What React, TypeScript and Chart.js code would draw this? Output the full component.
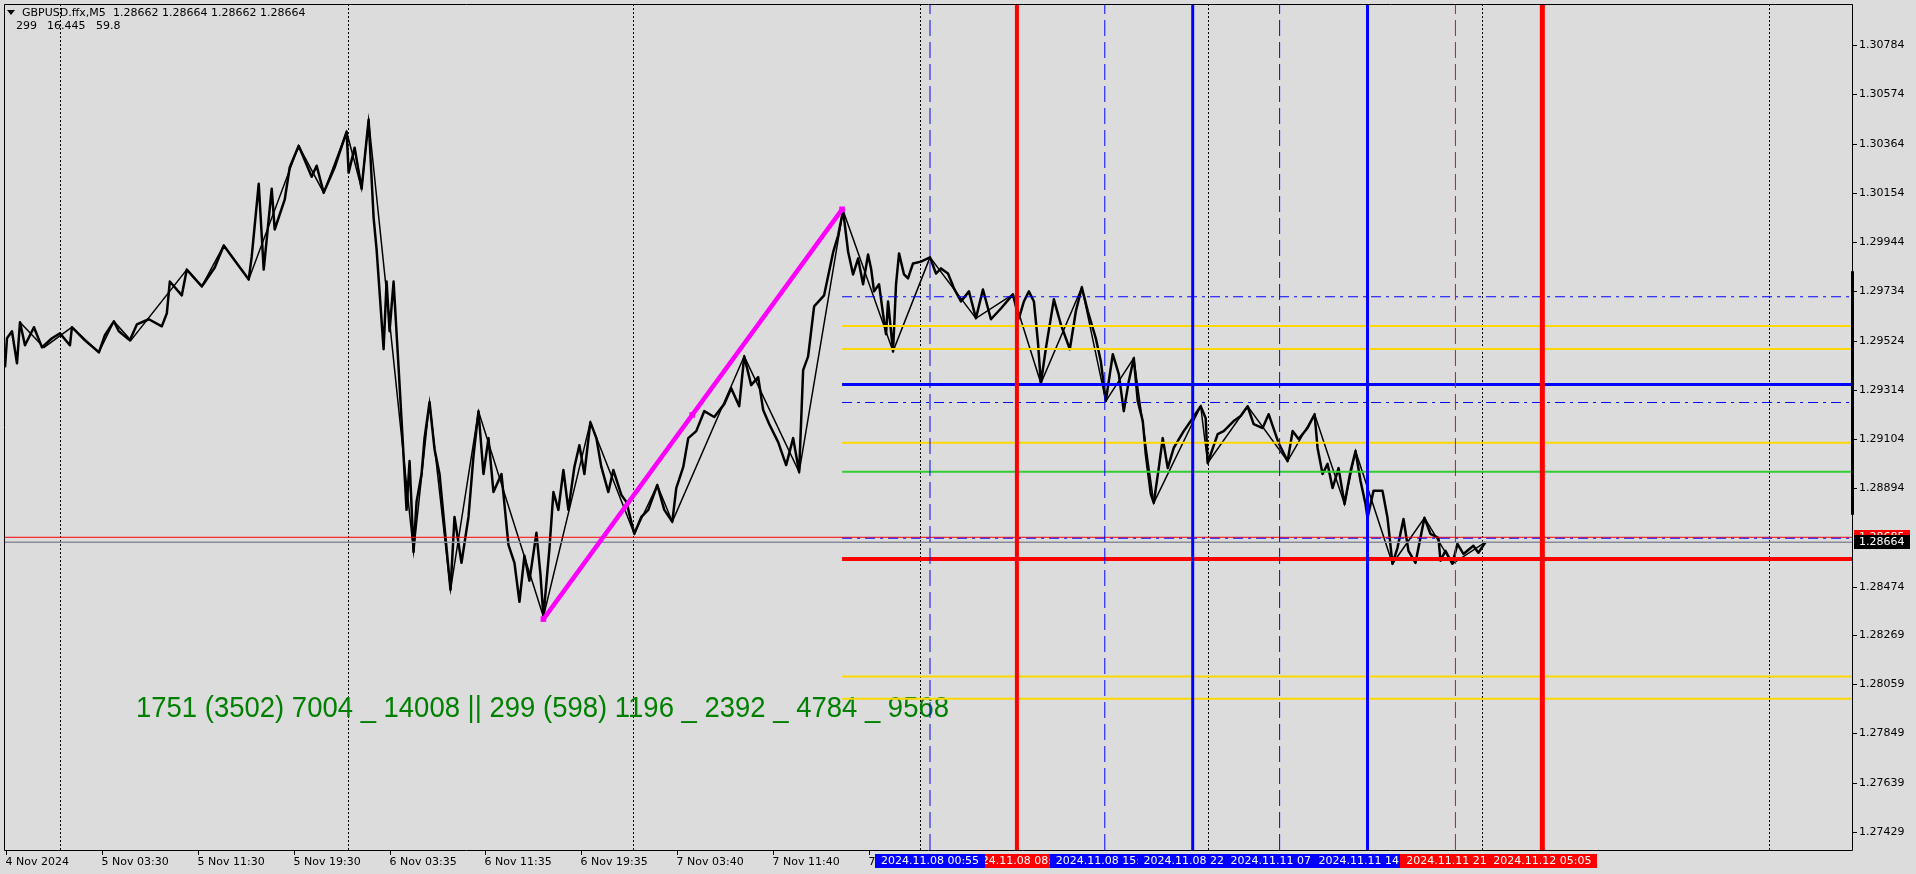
import React, { useEffect, useRef } from "react";
import { Chart, registerables } from "chart.js";
Chart.register(...registerables);

// ---------- text ----------
const SYMBOL = "GBPUSD.ffx,M5";
const QUOTES = "1.28662 1.28664 1.28662 1.28664";
const INFO = ["299", "16.445", "59.8"];
const GREEN_TEXT = "1751 (3502) 7004 _ 14008 || 299 (598) 1196 _ 2392 _ 4784 _ 9568";

// ---------- axes ----------
const BAR_MIN = 2;
const BAR_MAX = 1852;
const PRICE_MIN = 1.273511;
const PRICE_MAX = 1.309598;
const priceTicks = [1.30784, 1.30574, 1.30364, 1.30154, 1.29944, 1.29734, 1.29524, 1.29314, 1.29104, 1.28894, 1.28474, 1.28269, 1.28059, 1.27849, 1.27639, 1.27429];
const timeTickBars = [4, 100, 196, 292, 388, 484, 580, 676, 772, 868];
const timeTickLabels = ["4 Nov 2024", "5 Nov 03:30", "5 Nov 11:30", "5 Nov 19:30", "6 Nov 03:35", "6 Nov 11:35", "6 Nov 19:35", "7 Nov 03:40", "7 Nov 11:40", "7 Nov 19:40"];
const gridBars = [58, 346, 632, 919, 1207, 1482, 1769];

// ---------- price series (bar index, close) ----------
const bars = [3,5,10,15,18,23,32,40,50,58,68,70,83,97,103,112,117,128,135,147,160,165,168,180,185,200,213,222,233,247,250,257,262,270,273,283,288,297,310,315,322,333,345,347,353,360,367,372,375,382,385,388,392,397,402,405,408,412,415,420,423,428,433,438,443,449,453,460,467,472,477,482,487,492,500,507,513,518,523,528,535,539,542,548,552,557,562,567,573,578,583,589,595,600,607,612,620,625,633,640,647,656,663,671,675,682,687,695,703,713,723,730,738,743,750,757,762,768,777,785,792,798,802,807,813,823,832,837,842,847,852,857,862,867,870,873,878,883,885,887,892,895,898,903,907,912,920,929,935,940,947,953,960,968,975,982,990,1000,1012,1018,1023,1028,1033,1037,1040,1045,1053,1060,1069,1075,1081,1087,1095,1100,1105,1112,1118,1123,1128,1133,1137,1142,1145,1150,1153,1158,1162,1167,1173,1183,1192,1200,1205,1207,1217,1223,1233,1240,1247,1253,1262,1268,1278,1287,1292,1298,1307,1314,1317,1322,1327,1332,1338,1344,1350,1355,1360,1365,1367,1373,1382,1387,1392,1397,1403,1408,1415,1424,1430,1438,1440,1445,1452,1457,1463,1473,1478,1485];
const closes = [1.29410,1.29534,1.29564,1.29427,1.29602,1.29504,1.29581,1.29495,1.29534,1.29555,1.29504,1.29581,1.29525,1.29474,1.29547,1.29606,1.29564,1.29525,1.29593,1.29615,1.29585,1.29640,1.29776,1.29717,1.29827,1.29755,1.29836,1.29930,1.29866,1.29785,1.29883,1.30193,1.29827,1.30172,1.29998,1.30125,1.30262,1.30355,1.30223,1.30270,1.30155,1.30262,1.30415,1.30240,1.30347,1.30172,1.30466,1.30049,1.29913,1.29487,1.29776,1.29564,1.29776,1.29410,1.29032,1.28802,1.29010,1.28623,1.28836,1.28955,1.29108,1.29261,1.29061,1.28955,1.28729,1.28461,1.28772,1.28576,1.28772,1.29032,1.29223,1.28955,1.29108,1.28878,1.28955,1.28653,1.28576,1.28410,1.28606,1.28500,1.28704,1.28529,1.28346,1.28636,1.28878,1.28802,1.28972,1.28802,1.28985,1.29078,1.28955,1.29176,1.29108,1.28985,1.28878,1.28972,1.28866,1.28836,1.28700,1.28772,1.28802,1.28908,1.28802,1.28751,1.28895,1.28985,1.29108,1.29138,1.29223,1.29198,1.29253,1.29321,1.29244,1.29457,1.29334,1.29368,1.29228,1.29168,1.29091,1.28993,1.29108,1.28963,1.29398,1.29457,1.29670,1.29717,1.29900,1.29972,1.30079,1.29904,1.29806,1.29874,1.29764,1.29891,1.29832,1.29734,1.29764,1.29606,1.29551,1.29691,1.29478,1.29764,1.29896,1.29806,1.29789,1.29853,1.29861,1.29879,1.29810,1.29832,1.29810,1.29747,1.29691,1.29734,1.29619,1.29742,1.29615,1.29661,1.29721,1.29619,1.29691,1.29734,1.29691,1.29521,1.29342,1.29491,1.29700,1.29593,1.29487,1.29649,1.29751,1.29649,1.29534,1.29436,1.29266,1.29466,1.29381,1.29223,1.29351,1.29449,1.29266,1.29181,1.29040,1.28870,1.28832,1.28980,1.29108,1.28980,1.29066,1.29138,1.29193,1.29244,1.29193,1.29002,1.29125,1.29138,1.29181,1.29202,1.29244,1.29168,1.29151,1.29210,1.29087,1.29010,1.29138,1.29104,1.29151,1.29210,1.29066,1.28955,1.28998,1.28895,1.28980,1.28827,1.28968,1.29053,1.28925,1.28827,1.28768,1.28883,1.28883,1.28768,1.28572,1.28640,1.28763,1.28627,1.28576,1.28768,1.28700,1.28683,1.28585,1.28627,1.28572,1.28657,1.28614,1.28649,1.28619,1.28664];

// ---------- zigzag swing points ----------
const zigBars = [18,42,70,97,112,129,185,200,222,247,297,322,345,360,367,412,428,449,477,542,589,633,656,671,743,798,842,892,929,975,1012,1040,1081,1105,1133,1153,1200,1207,1247,1287,1314,1344,1355,1392,1424,1452,1485];
const zigPrices = [1.29602,1.29495,1.29581,1.29474,1.29606,1.29525,1.29827,1.29755,1.29930,1.29785,1.30355,1.30155,1.30415,1.30172,1.30466,1.28623,1.29261,1.28461,1.29223,1.28346,1.29176,1.28700,1.28908,1.28751,1.29457,1.28963,1.30079,1.29478,1.29879,1.29619,1.29721,1.29342,1.29751,1.29266,1.29449,1.28832,1.29244,1.29002,1.29244,1.29010,1.29210,1.28827,1.29053,1.28572,1.28768,1.28572,1.28664];

// ---------- trend line (magenta) ----------
const trendBars = [542, 691, 841];
const trendPrices = [1.28336, 1.29207, 1.30084];

// ---------- horizontal levels ----------
const levelStartBar = 841;
const yellowLevels = [1.29586, 1.29488, 1.29088, 1.28091, 1.27996];
const greenLevel = 1.28965;
const blueLevel = 1.29337;
const blueDashDotLevels = [1.29711, 1.29260, 1.28681];
const redLevel = 1.28592;
const bidLevel = 1.28685;
const lastLevel = 1.28664;
const scrollRange = [1.29820, 1.28781];

// ---------- vertical time lines ----------
const vBars = [929, 1016, 1104, 1192, 1279, 1367, 1455, 1542];
const vTimes = ["2024.11.08 00:55", "2024.11.08 08:10", "2024.11.08 15:30", "2024.11.08 22:50", "2024.11.11 07:05", "2024.11.11 14:25", "2024.11.11 21:45", "2024.11.12 05:05"];
const vKinds = ["blueDash", "redThick", "blueDash", "blueThick", "blueDash", "blueThick", "redDash", "redThickWide"];
const vLabelOrder = [1, 0, 2, 3, 4, 5, 6, 7];

const STYLE: Record<string, { color: string; width: number; dash: number[] }> = {
  blueDash: { color: "#0000FF", width: 1, dash: [16, 6] },
  redDash: { color: "#FF0000", width: 1, dash: [16, 6] },
  blueThick: { color: "#0000FF", width: 3, dash: [] },
  redThick: { color: "#FF0000", width: 4, dash: [] },
  redThickWide: { color: "#FF0000", width: 5, dash: [] },
};

const BG = "#DCDCDC";
const FONT = "11px 'DejaVu Sans'";

export default function App() {
  const ref = useRef<HTMLCanvasElement>(null);
  useEffect(() => {
    document.body.style.margin = "0";
    document.body.style.overflow = "hidden";
    const canvas = ref.current!;

    const hline = (p: number, from: number, color: string, width: number, dash: number[], order: number) => ({
      data: [{ x: from, y: p }, { x: BAR_MAX, y: p }],
      borderColor: color,
      borderWidth: width,
      borderDash: dash,
      pointRadius: 0,
      order,
    });

    const datasets: any[] = [];
    datasets.push({
      data: trendBars.map((b, i) => ({ x: b, y: trendPrices[i] })),
      borderColor: "#FF00FF",
      backgroundColor: "#FF00FF",
      borderWidth: 4.5,
      pointStyle: "rect",
      pointRadius: 4,
      pointBorderWidth: 0,
      order: 1,
    });
    vBars.forEach((b, i) => {
      const s = STYLE[vKinds[i]];
      datasets.push({
        data: [{ x: b, y: PRICE_MIN }, { x: b, y: PRICE_MAX }],
        borderColor: s.color,
        borderWidth: s.width,
        borderDash: s.dash,
        pointRadius: 0,
        order: 3,
      });
    });
    yellowLevels.forEach((p) => datasets.push(hline(p, levelStartBar, "#FFD700", 2, [], 6)));
    datasets.push(hline(greenLevel, levelStartBar, "#32CD32", 2, [], 6));
    datasets.push(hline(blueLevel, levelStartBar, "#0000FF", 3, [], 5));
    datasets.push(hline(redLevel, levelStartBar, "#FF0000", 4, [], 5));
    blueDashDotLevels.forEach((p) => datasets.push(hline(p, levelStartBar, "#0000FF", 1, [10, 5, 3, 5], 6)));
    datasets.push(hline(lastLevel, BAR_MIN, "#888C98", 1.5, [], 7));
    datasets.push(hline(bidLevel, BAR_MIN, "#FF0000", 1, [], 7));
    datasets.push({
      data: zigBars.map((b, i) => ({ x: b, y: zigPrices[i] })),
      borderColor: "#000000",
      borderWidth: 1.5,
      pointRadius: 0,
      order: 19,
    });
    datasets.push({
      data: bars.map((b, i) => ({ x: b, y: closes[i] })),
      borderColor: "#000000",
      borderWidth: 2.5,
      borderJoinStyle: "round",
      pointRadius: 0,
      order: 20,
    });

    const mt4 = {
      id: "mt4",
      beforeDraw(chart: any) {
        const ctx = chart.ctx;
        ctx.save();
        ctx.fillStyle = BG;
        ctx.fillRect(0, 0, chart.width, chart.height);
        ctx.restore();
      },
      beforeDatasetsDraw(chart: any) {
        const ctx = chart.ctx;
        const xs = chart.scales.x;
        const ca = chart.chartArea;
        ctx.save();
        // dotted grid
        ctx.strokeStyle = "#000000";
        ctx.lineWidth = 1;
        ctx.setLineDash([2, 2]);
        gridBars.forEach((b) => {
          const x = Math.round(xs.getPixelForValue(b)) + 0.5;
          ctx.beginPath();
          ctx.moveTo(x, ca.top);
          ctx.lineTo(x, ca.bottom);
          ctx.stroke();
        });
        ctx.setLineDash([]);
        // header
        ctx.fillStyle = "#000000";
        ctx.beginPath();
        ctx.moveTo(7, 10);
        ctx.lineTo(15, 10);
        ctx.lineTo(11, 15);
        ctx.closePath();
        ctx.fill();
        ctx.font = FONT;
        ctx.textBaseline = "middle";
        ctx.textAlign = "left";
        ctx.fillText(SYMBOL, 22, 13);
        ctx.fillText(QUOTES, 113, 13);
        ctx.fillText(INFO[0], 16, 26);
        ctx.fillText(INFO[1], 47, 26);
        ctx.fillText(INFO[2], 96, 26);
        // green text
        ctx.font = "29px 'Liberation Sans Narrow', 'Liberation Sans', sans-serif";
        ctx.textBaseline = "alphabetic";
        const w = ctx.measureText(GREEN_TEXT).width;
        ctx.translate(136, 717);
        ctx.scale(813 / w, 1);
        ctx.fillStyle = "#008000";
        ctx.fillText(GREEN_TEXT, 0, 0);
        ctx.restore();
      },
      afterDraw(chart: any) {
        const ctx = chart.ctx;
        const xs = chart.scales.x;
        const ys = chart.scales.y;
        const ca = chart.chartArea;
        ctx.save();
        // frame
        ctx.strokeStyle = "#000000";
        ctx.lineWidth = 1;
        ctx.beginPath();
        ctx.moveTo(ca.left + 0.5, ca.top + 0.5);
        ctx.lineTo(ca.right + 0.5, ca.top + 0.5);
        ctx.lineTo(ca.right + 0.5, ca.bottom + 0.5);
        ctx.lineTo(ca.left + 0.5, ca.bottom + 0.5);
        ctx.closePath();
        ctx.stroke();
        // scroll bar on price axis
        const sy0 = ys.getPixelForValue(scrollRange[0]);
        const sy1 = ys.getPixelForValue(scrollRange[1]);
        ctx.fillStyle = "#000000";
        ctx.fillRect(ca.right - 1, sy0, 3, sy1 - sy0);
        // price ticks
        ctx.font = FONT;
        ctx.textBaseline = "middle";
        ctx.textAlign = "left";
        priceTicks.forEach((t) => {
          const y = Math.round(ys.getPixelForValue(t)) + 0.5;
          ctx.beginPath();
          ctx.moveTo(ca.right, y);
          ctx.lineTo(ca.right + 5, y);
          ctx.stroke();
          ctx.fillText(t.toFixed(5), ca.right + 7, y);
        });
        // time ticks
        timeTickBars.forEach((b, i) => {
          const x = Math.round(xs.getPixelForValue(b)) + 0.5;
          ctx.beginPath();
          ctx.moveTo(x, ca.bottom);
          ctx.lineTo(x, ca.bottom + 5);
          ctx.stroke();
          ctx.fillText(timeTickLabels[i], x - 1, ca.bottom + 12);
        });
        // coloured time labels of vertical lines
        vLabelOrder.forEach((i) => {
          const x = xs.getPixelForValue(vBars[i]);
          const tw = ctx.measureText(vTimes[i]).width;
          const bw = tw + 12;
          ctx.fillStyle = STYLE[vKinds[i]].color;
          ctx.fillRect(Math.round(x - bw / 2), ca.bottom + 4, Math.round(bw), 14);
          ctx.fillStyle = "#FFFFFF";
          ctx.textAlign = "center";
          ctx.fillText(vTimes[i], x, ca.bottom + 11.5);
        });
        // price tags
        const tag = (p: number, bg: string) => {
          const y = ys.getPixelForValue(p);
          ctx.fillStyle = bg;
          ctx.fillRect(ca.right + 2, Math.round(y - 7), 56, 14);
          ctx.fillStyle = "#FFFFFF";
          ctx.textAlign = "left";
          ctx.fillText(p.toFixed(5), ca.right + 7, y);
        };
        tag(bidLevel, "#FF0000");
        tag(lastLevel, "#000000");
        ctx.restore();
      },
    };

    const chart = new Chart(canvas, {
      type: "line",
      data: { datasets },
      options: {
        responsive: false,
        animation: false,
        devicePixelRatio: 1,
        events: [],
        layout: { padding: { left: 2, top: 2, right: 64, bottom: 24 } },
        elements: { line: { tension: 0 } },
        scales: {
          x: { type: "linear", min: BAR_MIN, max: BAR_MAX, display: false },
          y: { type: "linear", min: PRICE_MIN, max: PRICE_MAX, display: false },
        },
        plugins: { legend: { display: false }, tooltip: { enabled: false } },
      },
      plugins: [mt4],
    } as any);
    return () => chart.destroy();
  }, []);
  return <canvas ref={ref} width={1916} height={874} style={{ display: "block" }} />;
}
